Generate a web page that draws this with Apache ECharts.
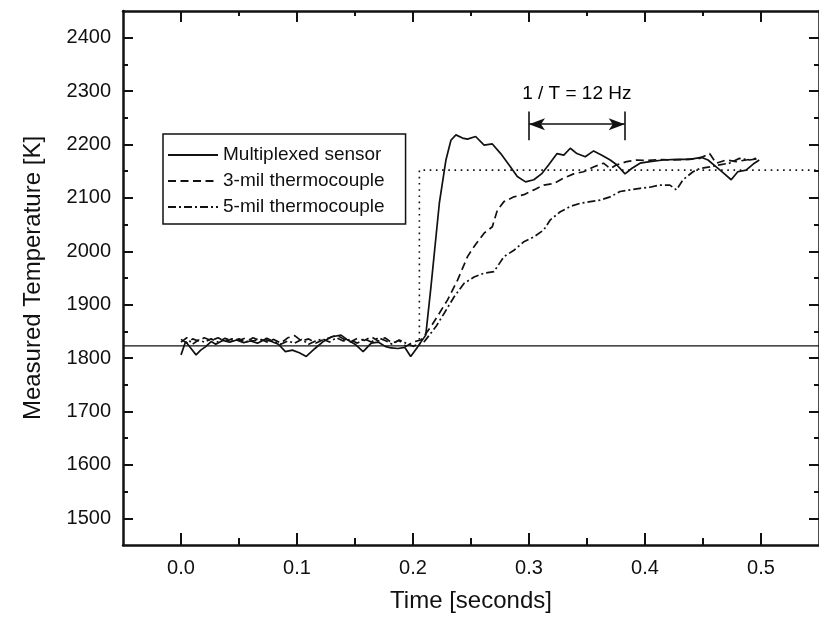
<!DOCTYPE html>
<html>
<head>
<meta charset="utf-8">
<script src="https://cdn.jsdelivr.net/npm/echarts@6/dist/echarts.min.js"></script>
<style>
html,body{margin:0;padding:0;background:#fff;}
#c{width:819px;height:628px;}
</style>
</head>
<body>
<div id="c"></div>
<script>
// ---- data (time in s, temperature in K) ----
const multiplexedT = [0, 0.004, 0.008, 0.013, 0.017, 0.021, 0.026, 0.030, 0.036, 0.042, 0.048, 0.054, 0.060, 0.066, 0.072, 0.078, 0.084, 0.090, 0.096, 0.102, 0.108, 0.1155, 0.122, 0.130, 0.138, 0.143, 0.150, 0.157, 0.164, 0.170, 0.176, 0.181, 0.187, 0.193, 0.198, 0.204, 0.211, 0.2155, 0.2227, 0.2284, 0.2327, 0.237, 0.2427, 0.247, 0.254, 0.2613, 0.2684, 0.2756, 0.2841, 0.2899, 0.297, 0.3042, 0.3113, 0.317, 0.3242, 0.33, 0.3356, 0.3413, 0.3485, 0.3557, 0.3628, 0.37, 0.3756, 0.3828, 0.3885, 0.3957, 0.4042, 0.4157, 0.4271, 0.4385, 0.4485, 0.4543, 0.4614, 0.4685, 0.4743, 0.48, 0.4871, 0.4943, 0.4985];
const multiplexedV = [1806, 1831, 1820, 1806, 1815, 1821, 1831, 1826, 1833, 1830, 1834, 1829, 1832, 1828, 1835, 1831, 1826, 1812, 1815, 1810, 1803, 1818, 1830, 1840, 1843, 1835, 1826, 1812, 1828, 1830, 1822, 1819, 1818, 1820, 1803, 1821, 1843, 1934, 2090, 2171, 2208, 2218, 2212, 2210, 2215, 2199, 2201, 2183, 2158, 2140, 2130, 2134, 2146, 2162, 2183, 2180, 2193, 2183, 2177, 2188, 2180, 2171, 2162, 2145, 2155, 2165, 2168, 2171, 2172, 2172, 2176, 2171, 2158, 2145, 2134, 2149, 2152, 2165, 2171];

const mil3T = [0, 0.005, 0.010, 0.015, 0.020, 0.026, 0.032, 0.038, 0.044, 0.050, 0.056, 0.062, 0.068, 0.074, 0.080, 0.086, 0.092, 0.098, 0.104, 0.110, 0.116, 0.122, 0.128, 0.134, 0.140, 0.146, 0.152, 0.158, 0.164, 0.170, 0.176, 0.182, 0.188, 0.194, 0.200, 0.207, 0.2155, 0.2227, 0.2298, 0.2384, 0.247, 0.2527, 0.2613, 0.2684, 0.2727, 0.2784, 0.287, 0.2956, 0.3042, 0.3127, 0.3213, 0.3299, 0.3385, 0.347, 0.3556, 0.3642, 0.37, 0.3756, 0.3842, 0.3928, 0.4014, 0.4128, 0.4243, 0.4357, 0.4471, 0.4557, 0.4614, 0.47, 0.4786, 0.4871, 0.4957];
const mil3V = [1835, 1828, 1836, 1832, 1838, 1833, 1838, 1831, 1836, 1833, 1838, 1832, 1836, 1830, 1835, 1828, 1838, 1842, 1832, 1836, 1828, 1834, 1838, 1843, 1836, 1830, 1837, 1833, 1840, 1832, 1838, 1828, 1833, 1822, 1830, 1834, 1859, 1884, 1909, 1946, 1990, 2009, 2034, 2046, 2077, 2093, 2102, 2106, 2115, 2124, 2127, 2137, 2145, 2149, 2158, 2165, 2155, 2162, 2168, 2171, 2170, 2172, 2171, 2172, 2174, 2183, 2165, 2171, 2168, 2171, 2174];

const mil5T = [0, 0.005, 0.010, 0.015, 0.020, 0.026, 0.032, 0.038, 0.044, 0.050, 0.056, 0.062, 0.068, 0.074, 0.080, 0.086, 0.092, 0.098, 0.104, 0.110, 0.116, 0.122, 0.128, 0.134, 0.140, 0.146, 0.152, 0.158, 0.164, 0.170, 0.176, 0.182, 0.188, 0.194, 0.200, 0.2098, 0.2198, 0.2269, 0.2355, 0.2441, 0.2527, 0.2613, 0.2698, 0.2784, 0.287, 0.2956, 0.3042, 0.3127, 0.3184, 0.327, 0.3356, 0.3442, 0.3528, 0.3614, 0.37, 0.3785, 0.3871, 0.3957, 0.4042, 0.4128, 0.4214, 0.4271, 0.4328, 0.4414, 0.4471, 0.4557, 0.4643, 0.4728, 0.4814, 0.49, 0.4985];
const mil5V = [1830, 1838, 1826, 1834, 1830, 1836, 1830, 1837, 1832, 1836, 1830, 1838, 1833, 1837, 1831, 1826, 1832, 1828, 1835, 1826, 1832, 1836, 1830, 1838, 1832, 1835, 1828, 1836, 1830, 1838, 1833, 1826, 1834, 1828, 1822, 1831, 1859, 1884, 1915, 1940, 1952, 1959, 1962, 1990, 2002, 2018, 2027, 2040, 2059, 2074, 2084, 2090, 2093, 2096, 2102, 2112, 2115, 2118, 2120, 2124, 2124, 2115, 2134, 2149, 2155, 2158, 2162, 2165, 2174, 2171, 2174];

const baselineT = [-0.05, 0.55];
const baselineV = [1823, 1823];
const stepT = [0.2055, 0.2055, 0.55];
const stepV = [1823, 2152, 2152];

const periodStartT = 0.300, periodEndT = 0.3825, periodArrowV = 2238, periodBarLow = 2208, periodBarHigh = 2262;
const periodLabel = '1 / T = 12 Hz';
const periodLabelV = 2295;

const xMajorTicks = [0, 0.1, 0.2, 0.3, 0.4, 0.5];
const xMinorTicks = [0.05, 0.15, 0.25, 0.35, 0.45];
const yMajorTicks = [1500, 1600, 1700, 1800, 1900, 2000, 2100, 2200, 2300, 2400];
const yMinorTicks = [1550, 1650, 1750, 1850, 1950, 2050, 2150, 2250, 2350];

const seriesNames = ['Multiplexed sensor', '3-mil thermocouple', '5-mil thermocouple'];

function zip(t, v) { return t.map((x, i) => [x, v[i]]); }

const FONT = '"Liberation Sans", Arial, Helvetica, sans-serif';
const INK = '#111';

function xAx(pos, ticks, len, showLine, showLabel, extra) {
  return Object.assign({
    type: 'value', position: pos, min: -0.05, max: 0.55,
    axisLine: { show: showLine, onZero: false, lineStyle: { color: INK, width: 2.5 } },
    axisTick: { show: true, inside: true, length: len, customValues: ticks, lineStyle: { color: INK, width: 2 } },
    axisLabel: showLabel ? { show: true, customValues: ticks, formatter: v => v.toFixed(1), fontSize: 20, color: INK, fontFamily: FONT, margin: 13 } : { show: false },
    splitLine: { show: false }
  }, extra || {});
}
function yAx(pos, ticks, len, showLine, showLabel, extra) {
  return Object.assign({
    type: 'value', position: pos, min: 1450, max: 2450,
    axisLine: { show: showLine, onZero: false, lineStyle: { color: INK, width: 2.5 } },
    axisTick: { show: true, inside: true, length: len, customValues: ticks, lineStyle: { color: INK, width: 2 } },
    axisLabel: showLabel ? { show: true, customValues: ticks, formatter: v => String(Math.round(v)), fontSize: 20, color: INK, fontFamily: FONT, margin: 12 } : { show: false },
    splitLine: { show: false }
  }, extra || {});
}

const chart = echarts.init(document.getElementById('c'), null, { renderer: 'canvas' });
const lineBase = { type: 'line', showSymbol: false, symbol: 'none', xAxisIndex: 0, yAxisIndex: 0, animation: false, color: INK, itemStyle: { color: INK } };

chart.setOption({
  animation: false,
  backgroundColor: '#fff',
  color: [INK],
  grid: { left: 123, right: -4, top: 11, bottom: 83, containLabel: false },
  xAxis: [
    xAx('bottom', xMajorTicks, 12, true, true, {
      name: 'Time [seconds]', nameLocation: 'middle', nameGap: 44,
      nameTextStyle: { fontSize: 24, color: INK, fontFamily: FONT }
    }),
    xAx('bottom', xMinorTicks, 7, false, false),
    xAx('top', xMajorTicks, 11, true, false),
    xAx('top', xMinorTicks, 5, false, false)
  ],
  yAxis: [
    yAx('left', yMajorTicks, 10, true, true, {
      name: 'Measured Temperature [K]', nameLocation: 'middle', nameGap: 78,
      nameTextStyle: { fontSize: 24, color: INK, fontFamily: FONT }
    }),
    yAx('left', yMinorTicks, 5, false, false),
    yAx('right', yMajorTicks, 10, true, false),
    yAx('right', yMinorTicks, 5, false, false)
  ],
  legend: {
    data: seriesNames,
    orient: 'vertical', left: 163, top: 134,
    itemWidth: 50, itemHeight: 20, itemGap: 6,
    padding: [11, 21, 7, 4],
    borderColor: INK, borderWidth: 1.5,
    itemStyle: { opacity: 0 },
    textStyle: { fontSize: 19, lineHeight: 20, color: INK, fontFamily: FONT },
    selectedMode: false
  },
  series: [
    Object.assign({}, lineBase, {
      name: 'baseline', data: zip(baselineT, baselineV), silent: true,
      lineStyle: { color: INK, width: 1.2 }
    }),
    Object.assign({}, lineBase, {
      name: 'step', data: zip(stepT, stepV), silent: true,
      lineStyle: { color: INK, width: 1.6, type: [1.6, 4.6] }
    }),
    Object.assign({}, lineBase, {
      name: seriesNames[0], data: zip(multiplexedT, multiplexedV),
      lineStyle: { color: INK, width: 1.7 }
    }),
    Object.assign({}, lineBase, {
      name: seriesNames[1], data: zip(mil3T, mil3V),
      lineStyle: { color: INK, width: 1.7, type: [8, 4.5] }
    }),
    Object.assign({}, lineBase, {
      name: seriesNames[2], data: zip(mil5T, mil5V),
      lineStyle: { color: INK, width: 1.7, type: [8, 3, 2, 3] }
    }),
    Object.assign({}, lineBase, {
      name: 'period', data: [], silent: true,
      markLine: {
        silent: true, animation: false,
        lineStyle: { color: INK, width: 1.6, type: 'solid' },
        label: { show: false },
        data: [
          [{ coord: [periodStartT, periodArrowV], symbol: 'arrow' }, { coord: [periodEndT, periodArrowV], symbol: 'arrow' }],
          [{ coord: [periodStartT, periodBarLow], symbol: 'none' }, { coord: [periodStartT, periodBarHigh], symbol: 'none' }],
          [{ coord: [periodEndT, periodBarLow], symbol: 'none' }, { coord: [periodEndT, periodBarHigh], symbol: 'none' }]
        ],
        symbolSize: [9, 16]
      }
    })
  ]
});

// annotation text placed at a data coordinate through the library's scales
const labelPos = chart.convertToPixel({ xAxisIndex: 0, yAxisIndex: 0 }, [(periodStartT + periodEndT) / 2, periodLabelV]);
chart.setOption({
  graphic: [{
    type: 'text', x: labelPos[0], y: labelPos[1], silent: true,
    style: { text: periodLabel, fill: '#000', font: '19px ' + FONT, align: 'center', verticalAlign: 'middle' }
  }]
});
</script>
</body>
</html>
